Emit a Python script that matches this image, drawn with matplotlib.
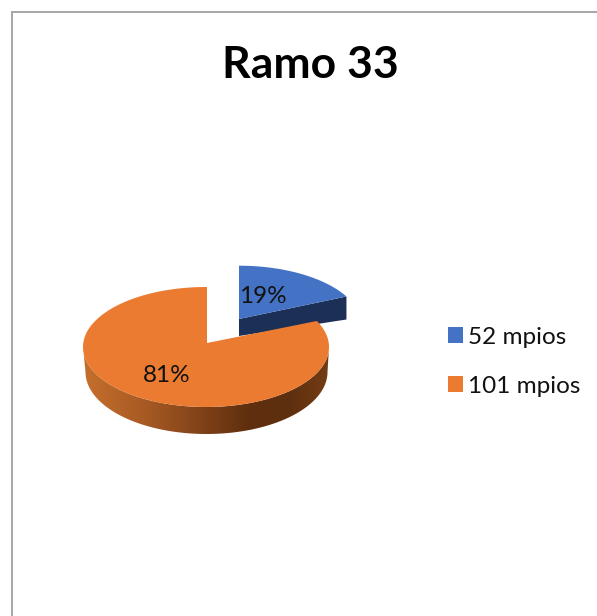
import numpy as np
import matplotlib
matplotlib.use("Agg")
import matplotlib.pyplot as plt
from matplotlib.colors import LinearSegmentedColormap
from matplotlib.patches import Patch, Polygon

plt.rcParams['font.family'] = ['Lato', 'DejaVu Sans']

# data
title = "Ramo 33"
labels = ["52 mpios", "101 mpios"]
shares = [19, 81]
colors = ["#4472c4", "#eb7b30"]

W, H = 597, 616
fig = plt.figure(figsize=(W / 100, H / 100), dpi=100)
ax = fig.add_axes([0, 0, 1, 1])
ax.set_xlim(0, W)
ax.set_ylim(H, 0)
ax.axis("off")

# chart border, only top and left are visible in the crop
ax.plot([12, 12, W], [H, 12, 12], color="#a6a6a6", lw=1.4, solid_joinstyle="miter")


def rim(cx, cy, rx, ry, a0, a1, n=200):
    # angles clockwise from 12 o'clock, in degrees
    t = np.radians(np.linspace(a0, a1, n))
    return np.column_stack([cx + rx * np.sin(t), cy - ry * np.cos(t)])


sweep = 360 * shares[0] / sum(shares)

# blue slice, pulled out. the perspective squeezes the angle a bit
blue_end = sweep * 0.89
blue_arc = rim(239, 325.7, 123, 60, 0, blue_end)
blue_apex = np.array([239, 319])
tip = blue_arc[-1]
ax.add_patch(Polygon([blue_apex, tip, tip + [0, 23], blue_apex + [0, 17]],
                     closed=True, fc="#1b2f57", ec="none", zorder=2))
ax.add_patch(Polygon(np.vstack([blue_apex, blue_arc]), closed=True,
                     fc=colors[0], ec="none", zorder=3))

# orange slice, side wall first with a horizontal shading
top_front = rim(206, 347, 123, 60, 90, 270)
low_front = rim(206.5, 372, 121, 62, 90, 270)
wall = Polygon(np.vstack([top_front, low_front[::-1]]), closed=True, fc="none", ec="none",
               transform=ax.transData)
ax.add_patch(wall)
shade = LinearSegmentedColormap.from_list(
    "wall", [(0, "#c66f2c"), (0.25, "#a85a24"), (0.68, "#5e2e0e"), (0.85, "#5f300f"), (1, "#743c15")])
img = ax.imshow(np.linspace(0, 1, 256)[None, :], cmap=shade, aspect="auto",
                extent=[83, 329, 440, 340], zorder=4)
img.set_clip_path(wall)
ax.set_xlim(0, W)
ax.set_ylim(H, 0)

orange_arc = rim(206, 347, 123, 60, sweep * 0.94, 360)
ax.add_patch(Polygon(np.vstack([[207, 343], orange_arc, [207, 287]]), closed=True,
                     fc=colors[1], ec="none", zorder=5))

# text
ax.text(310.5, 65, title, fontsize=32, fontweight="bold", ha="center", va="center", color="black", zorder=6)
ax.text(262.5, 296.5, f"{shares[0]}%", fontsize=17.5, ha="center", va="center", color="#111111", zorder=6)
ax.text(166.5, 375.5, f"{shares[1]}%", fontsize=17.5, ha="center", va="center", color="#111111", zorder=6)

handles = [Patch(fc=c, ec="none", label=l) for c, l in zip(colors, labels)]
ax.legend(handles=handles, loc="upper left", bbox_to_anchor=(448, 326.5), bbox_transform=ax.transData,
          frameon=False, fontsize=17.5, handlelength=0.62, handleheight=0.62, handletextpad=0.2,
          labelspacing=1.16, borderpad=0, borderaxespad=0, labelcolor="#111111")

fig.savefig("out.png", dpi=100)
